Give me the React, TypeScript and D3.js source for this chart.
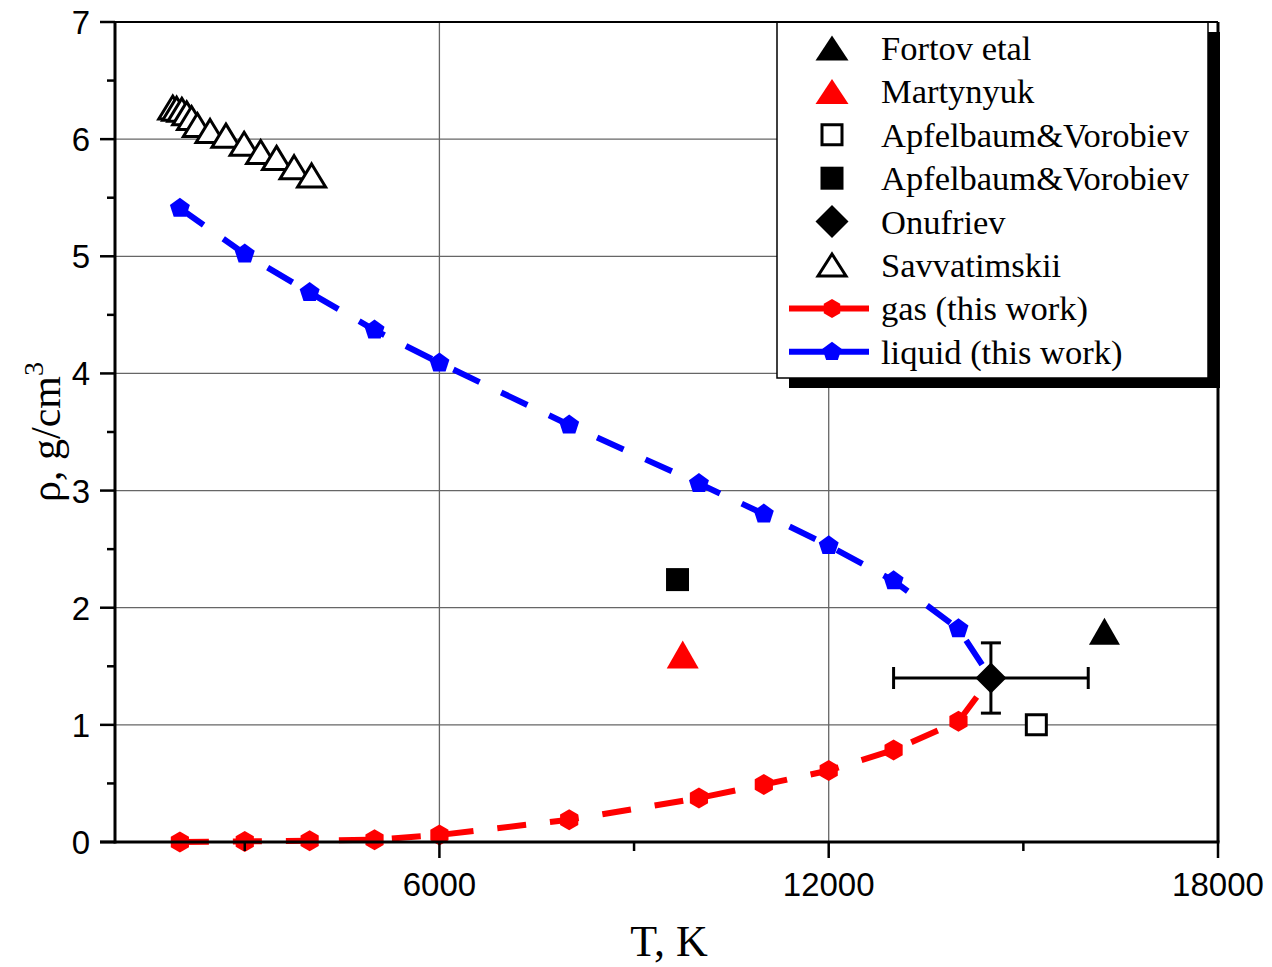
import React, { useEffect, useRef } from 'react';
import * as d3 from 'd3';

// liquid / gas branches (this work), last point = critical point
const T_CALC = [2000, 3000, 4000, 5000, 6000, 8000, 10000, 11000, 12000, 13000, 14000, 14500];
const RHO_LIQUID = [5.41, 5.02, 4.69, 4.37, 4.09, 3.56, 3.06, 2.8, 2.53, 2.23, 1.82, 1.4];
const RHO_GAS = [0.0, 0.005, 0.01, 0.02, 0.06, 0.19, 0.375, 0.49, 0.61, 0.785, 1.03, 1.4];

// Savvatimskii open triangles
const T_SAVV = [1890, 1950, 2030, 2105, 2180, 2270, 2465, 2710, 2990, 3245, 3490, 3760, 4030];
const RHO_SAVV = [6.27, 6.26, 6.25, 6.22, 6.18, 6.12, 6.07, 6.03, 5.96, 5.89, 5.84, 5.76, 5.69];

// single experimental points
const FORTOV = { t: 16250, rho: 1.8 };
const MARTYNYUK = { t: 9750, rho: 1.6 };
const APF_OPEN = { t: 15200, rho: 1.0 };
const APF_FILLED = { t: 9670, rho: 2.24 };
const ONUFRIEV = { t: 14500, rho: 1.4, dt: 1500, drho: 0.3 };

const X_TICKS = [6000, 12000, 18000];
const X_MINOR = [3000, 9000, 15000];
const Y_TICKS = [0, 1, 2, 3, 4, 5, 6, 7];
const Y_MINOR = [0.5, 1.5, 2.5, 3.5, 4.5, 5.5, 6.5];

const LEGEND = [
  'Fortov etal',
  'Martynyuk',
  'Apfelbaum&Vorobiev',
  'Apfelbaum&Vorobiev',
  'Onufriev',
  'Savvatimskii',
  'gas (this work)',
  'liquid (this work)',
];

const W = 1272;
const H = 967;

// marker paths centred on 0,0
const triangle = (w, h) => `M0,${-h / 2}L${w / 2},${h / 2}L${-w / 2},${h / 2}Z`;
const square = (s) => `M${-s / 2},${-s / 2}h${s}v${s}h${-s}Z`;
const diamond = (r) => `M0,${-r}L${r},0L0,${r}L${-r},0Z`;
const polygon = (n, r, rot) => {
  const pts = d3.range(n).map(i => {
    const a = rot + (i * 2 * Math.PI) / n;
    return [r * Math.sin(a), -r * Math.cos(a)];
  });
  return 'M' + pts.map(p => p.join(',')).join('L') + 'Z';
};
const pentagon = (r) => polygon(5, r, 0);
const hexagon = (r) => polygon(6, r, 0);

const App = () => {
  const svgRef = useRef();

  useEffect(() => {
    const svg = d3.select(svgRef.current);
    svg.selectAll('*').remove();

    const x = d3.scaleLinear().domain([1000, 18000]).range([115, 1218]);
    const y = d3.scaleLinear().domain([0, 7]).range([842, 22]);

    // grid
    const grid = svg.append('g').attr('stroke', '#666').attr('stroke-width', 1.3);
    grid.selectAll('.hg').data(Y_TICKS.filter(v => v > 0 && v < 7)).enter().append('line')
      .attr('x1', x(1000)).attr('x2', x(18000))
      .attr('y1', d => y(d)).attr('y2', d => y(d));
    grid.selectAll('.vg').data(X_TICKS.filter(v => v < 18000)).enter().append('line')
      .attr('x1', d => x(d)).attr('x2', d => x(d))
      .attr('y1', y(0)).attr('y2', y(7));

    // calculated branches
    const series = [
      { rho: RHO_GAS, color: '#ff0000', marker: hexagon(10.5) },
      { rho: RHO_LIQUID, color: '#0000ff', marker: pentagon(10.5) },
    ];
    series.forEach(s => {
      const pts = T_CALC.map((t, i) => [x(t), y(s.rho[i])]);
      svg.append('path')
        .attr('d', d3.line()(pts))
        .attr('fill', 'none')
        .attr('stroke', s.color)
        .attr('stroke-width', 6)
        .attr('stroke-dasharray', '29 24');
      svg.append('g').selectAll('path').data(pts.slice(0, -1)).enter().append('path')
        .attr('d', s.marker)
        .attr('transform', d => `translate(${d[0]},${d[1]})`)
        .attr('fill', s.color);
    });

    // Savvatimskii
    svg.append('g').selectAll('path').data(T_SAVV).enter().append('path')
      .attr('d', triangle(28, 23))
      .attr('transform', (d, i) => `translate(${x(d)},${y(RHO_SAVV[i])})`)
      .attr('fill', 'white')
      .attr('stroke', 'black')
      .attr('stroke-width', 3)
      .attr('stroke-linejoin', 'miter');

    // single points
    svg.append('path').attr('d', triangle(31, 27))
      .attr('transform', `translate(${x(FORTOV.t)},${y(FORTOV.rho)})`).attr('fill', 'black');
    svg.append('path').attr('d', triangle(32, 28))
      .attr('transform', `translate(${x(MARTYNYUK.t)},${y(MARTYNYUK.rho)})`).attr('fill', '#ff0000');
    svg.append('path').attr('d', square(20))
      .attr('transform', `translate(${x(APF_OPEN.t)},${y(APF_OPEN.rho)})`)
      .attr('fill', 'white').attr('stroke', 'black').attr('stroke-width', 3);
    svg.append('path').attr('d', square(23))
      .attr('transform', `translate(${x(APF_FILLED.t)},${y(APF_FILLED.rho)})`).attr('fill', 'black');

    // Onufriev with error bars
    const o = ONUFRIEV;
    const eb = svg.append('g').attr('stroke', 'black').attr('stroke-width', 3);
    eb.append('line').attr('x1', x(o.t - o.dt)).attr('x2', x(o.t + o.dt)).attr('y1', y(o.rho)).attr('y2', y(o.rho));
    eb.append('line').attr('x1', x(o.t)).attr('x2', x(o.t)).attr('y1', y(o.rho - o.drho)).attr('y2', y(o.rho + o.drho));
    [o.t - o.dt, o.t + o.dt].forEach(v => {
      eb.append('line').attr('x1', x(v)).attr('x2', x(v)).attr('y1', y(o.rho) - 11).attr('y2', y(o.rho) + 11);
    });
    [o.rho - o.drho, o.rho + o.drho].forEach(v => {
      eb.append('line').attr('x1', x(o.t) - 10).attr('x2', x(o.t) + 10).attr('y1', y(v)).attr('y2', y(v));
    });
    svg.append('path').attr('d', diamond(15.5))
      .attr('transform', `translate(${x(o.t)},${y(o.rho)})`).attr('fill', 'black');

    // legend
    const lx = 777, ly = 22, lw = 431, lh = 356;
    svg.append('rect').attr('x', lx + 12).attr('y', ly + 10).attr('width', lw).attr('height', lh).attr('fill', 'black');
    svg.append('rect').attr('x', lx).attr('y', ly).attr('width', lw).attr('height', lh)
      .attr('fill', 'white').attr('stroke', 'black').attr('stroke-width', 1.5);
    const legendSymbols = [
      { d: triangle(33, 25), fill: 'black' },
      { d: triangle(33, 25), fill: '#ff0000' },
      { d: square(20), fill: 'white', stroke: 'black' },
      { d: square(23), fill: 'black' },
      { d: diamond(16.5), fill: 'black' },
      { d: triangle(28, 22), fill: 'white', stroke: 'black' },
      { d: hexagon(9.5), fill: '#ff0000', line: '#ff0000' },
      { d: pentagon(10), fill: '#0000ff', line: '#0000ff' },
    ];
    LEGEND.forEach((name, i) => {
      const cy = 48 + i * 43.4;
      const sym = legendSymbols[i];
      if (sym.line) {
        svg.append('line').attr('x1', 789).attr('x2', 869).attr('y1', cy).attr('y2', cy)
          .attr('stroke', sym.line).attr('stroke-width', 6);
      }
      svg.append('path').attr('d', sym.d)
        .attr('transform', `translate(832,${cy})`)
        .attr('fill', sym.fill)
        .attr('stroke', sym.stroke || 'none')
        .attr('stroke-width', 3);
      svg.append('text')
        .attr('x', 881).attr('y', cy + 12)
        .attr('font-family', '"Liberation Serif", "Times New Roman", serif')
        .attr('font-size', 34.5)
        .attr('fill', 'black')
        .text(name);
    });

    // frame and axes
    const axes = svg.append('g').attr('stroke', 'black');
    axes.append('line').attr('x1', x(1000)).attr('x2', x(18000)).attr('y1', y(7)).attr('y2', y(7)).attr('stroke-width', 2);
    axes.append('line').attr('x1', x(18000)).attr('x2', x(18000)).attr('y1', y(7)).attr('y2', y(0)).attr('stroke-width', 3);
    axes.append('line').attr('x1', x(1000)).attr('x2', x(1000)).attr('y1', y(7) - 1).attr('y2', y(0) + 1.5).attr('stroke-width', 3);
    axes.append('line').attr('x1', x(1000) - 15).attr('x2', x(18000) + 1.5).attr('y1', y(0)).attr('y2', y(0)).attr('stroke-width', 3);
    Y_TICKS.forEach(v => {
      axes.append('line').attr('x1', x(1000) - 15).attr('x2', x(1000)).attr('y1', y(v)).attr('y2', y(v)).attr('stroke-width', 2.5);
    });
    Y_MINOR.forEach(v => {
      axes.append('line').attr('x1', x(1000) - 8).attr('x2', x(1000)).attr('y1', y(v)).attr('y2', y(v)).attr('stroke-width', 2.5);
    });
    X_TICKS.forEach(v => {
      axes.append('line').attr('x1', x(v)).attr('x2', x(v)).attr('y1', y(0)).attr('y2', y(0) + 16).attr('stroke-width', 2.5);
    });
    X_MINOR.forEach(v => {
      axes.append('line').attr('x1', x(v)).attr('x2', x(v)).attr('y1', y(0)).attr('y2', y(0) + 9).attr('stroke-width', 2.5);
    });

    const sans = '"Liberation Sans", Arial, sans-serif';
    svg.append('g').selectAll('text').data(Y_TICKS).enter().append('text')
      .attr('x', 90).attr('y', d => y(d) + 12)
      .attr('text-anchor', 'end')
      .attr('font-family', sans).attr('font-size', 33)
      .text(d => d);
    svg.append('g').selectAll('text').data(X_TICKS).enter().append('text')
      .attr('x', d => x(d)).attr('y', 896)
      .attr('text-anchor', 'middle')
      .attr('font-family', sans).attr('font-size', 33)
      .text(d => d);

    const serif = '"Liberation Serif", "Times New Roman", serif';
    svg.append('text')
      .attr('x', 669).attr('y', 956)
      .attr('text-anchor', 'middle')
      .attr('font-family', serif).attr('font-size', 44)
      .text('T, K');
    const yt = svg.append('text')
      .attr('transform', 'translate(60,432) rotate(-90)')
      .attr('text-anchor', 'middle')
      .attr('font-family', serif).attr('font-size', 42);
    yt.append('tspan').text('ρ, g/cm');
    yt.append('tspan').attr('dy', -17).attr('font-size', 28).text('3');
  }, []);

  return (
    <svg ref={svgRef} width={W} height={H}
      style={{ position: 'absolute', left: 0, top: 0, background: 'white' }} />
  );
};

export default App;
